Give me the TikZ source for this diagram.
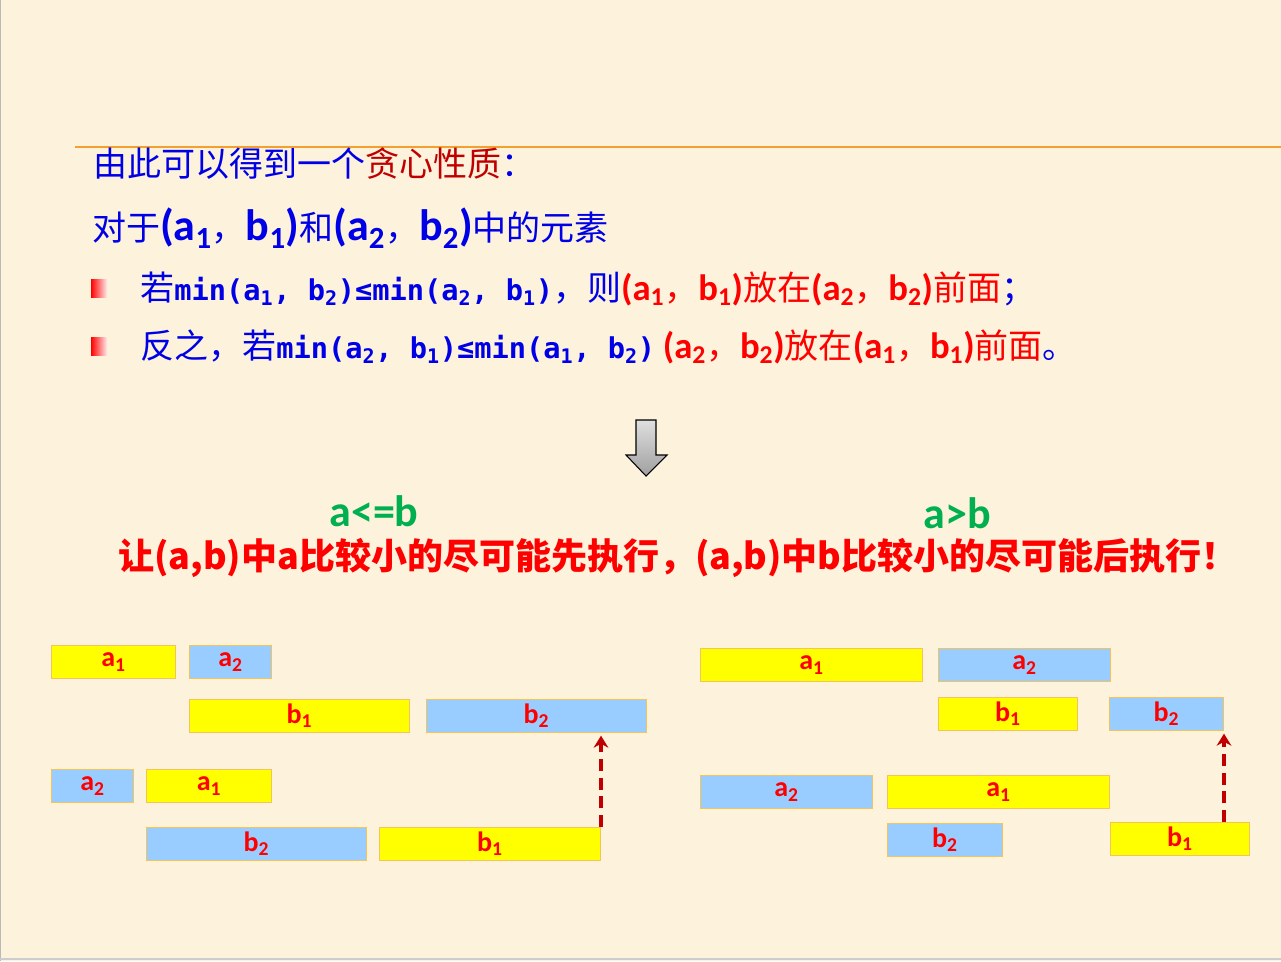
\documentclass[tikz,border=0pt]{standalone}
\usepackage{fontspec}
\usepackage{xcolor}
\usepackage{tikz}
\usetikzlibrary{arrows.meta}
\setmainfont{Carlito}
\newfontfamily\zhfont{Noto Sans CJK SC}
\newfontfamily\codefont{DejaVu Sans Mono}
\definecolor{paper}{RGB}{253,243,220}
\definecolor{rulecol}{RGB}{243,160,48}
\definecolor{textblue}{RGB}{0,0,230}
\definecolor{darkred}{RGB}{192,0,0}
\definecolor{hotred}{RGB}{255,0,0}
\definecolor{greenlab}{RGB}{0,176,80}
\definecolor{boxyellow}{RGB}{255,255,0}
\definecolor{boxblue}{RGB}{153,204,255}
\definecolor{boxline}{RGB}{242,196,90}
\newcommand{\latsize}{27.5}
\newcommand{\zh}[1]{{\zhfont #1}}
\newcommand{\code}[1]{{\codefont\bfseries\fontsize{21.5}{26}\selectfont #1}}
\newcommand{\lat}[1]{{\bfseries\fontsize{\latsize}{34}\selectfont #1}}
\newcommand{\ix}[1]{\textsubscript{#1}}
\tikzset{
  line/.style={anchor=base west,inner sep=0pt,text=textblue,font=\fontsize{25.5}{30}\selectfont},
  mark box/.style={rectangle,inner sep=0pt,minimum width=12pt,minimum height=13.5pt,
    left color=hotred,right color=hotred!8},
  slot/.style={rectangle,draw=boxline,line width=0.75pt,inner sep=0pt,anchor=north west,
    minimum height=24.75pt,text=hotred,font=\bfseries\fontsize{21}{24}\selectfont},
  yslot/.style={slot,fill=boxyellow,minimum width=#1*0.75pt},
  bslot/.style={slot,fill=boxblue,minimum width=#1*0.75pt},
  trace/.style={-{Stealth[length=9pt,width=11pt]},dash pattern=on 9pt off 5pt,
    line width=2.6pt,draw=darkred,shorten >=2pt}
}
\begin{document}
\begin{tikzpicture}[x=0.75pt,y=-0.75pt]
\fill[paper] (0,0) rectangle (1281,961);
\useasboundingbox (0,0) rectangle (1281,961);
\draw[gray!55,line width=1pt] (0.5,0) -- (0.5,961);
\draw[gray!40,line width=1pt] (0,959) -- (1281,959);
\draw[rulecol,line width=1.6pt] (75,147) -- (1281,147);
\node[line] (title) at (93,176) {\zh{由此可以得到一个\textcolor{darkred}{贪心性质}：}};
\node[line] (pairs) at (92,240) {\renewcommand{\latsize}{33}\zh{对于}\lat{(a\ix1}\zh{，}\lat{b\ix1)}\zh{和}\lat{(a\ix2}\zh{，}\lat{b\ix2)}\zh{中的元素}};
\node[mark box] (m1) at (99,288) {};
\node[mark box] (m2) at (99,346) {};
\node[line] (rule1) at (140,300) {\zh{若}\code{min(a\ix1,~b\ix2)≤min(a\ix2,~b\ix1)}\zh{，则}\textcolor{hotred}{\lat{(a\ix1}\zh{，}\lat{b\ix1)}\zh{放在}\lat{(a\ix2}\zh{，}\lat{b\ix2)}\zh{前面}}\zh{；}};
\node[line] (rule2) at (140,358) {\zh{反之，若}\code{min(a\ix2,~b\ix1)≤min(a\ix1,~b\ix2)}~\textcolor{hotred}{\lat{(a\ix2}\zh{，}\lat{b\ix2)}\zh{放在}\lat{(a\ix1}\zh{，}\lat{b\ix1)}\zh{前面}}\zh{。}};
\shade[top color=gray!25,bottom color=gray!75,draw=black,line width=0.8pt]
  (636,420) -- (656,420) -- (656,455) -- (667,455) -- (646,476) -- (626,455) -- (636,455) -- cycle;
\node[anchor=base,inner sep=0pt,text=greenlab,font=\bfseries\fontsize{33}{36}\selectfont] (le) at (374,526) {a<=b};
\node[anchor=base,inner sep=0pt,text=greenlab,font=\bfseries\fontsize{33}{36}\selectfont] (gt) at (957,528) {a>b};
\node[anchor=base west,inner sep=0pt,text=hotred,font=\zhfont\bfseries\fontsize{27}{30}\selectfont] (hint) at (118,569) {让(a,b)中a比较小的尽可能先执行，(a,b)中b比较小的尽可能后执行！};
\node[yslot=124] (la1) at (51,645) {a\ix1};
\node[bslot=82] (la2) at (189,645) {a\ix2};
\node[yslot=220] (lb1) at (189,699) {b\ix1};
\node[bslot=220] (lb2) at (426,699) {b\ix2};
\node[bslot=82] (sa2) at (51,769) {a\ix2};
\node[yslot=125] (sa1) at (146,769) {a\ix1};
\node[bslot=220] (sb2) at (146,827) {b\ix2};
\node[yslot=221] (sb1) at (379,827) {b\ix1};
\draw[trace] (sb1.north east) -- (sb1.north east |- lb2.south);
\node[yslot=222] (ra1) at (700,648) {a\ix1};
\node[bslot=172] (ra2) at (938,648) {a\ix2};
\node[yslot=139] (rb1) at (938,697) {b\ix1};
\node[bslot=114] (rb2) at (1109,697) {b\ix2};
\node[bslot=172] (ta2) at (700,775) {a\ix2};
\node[yslot=222] (ta1) at (887,775) {a\ix1};
\node[bslot=115] (tb2) at (887,823) {b\ix2};
\node[yslot=139] (tb1) at (1110,822) {b\ix1};
\draw[trace] (rb2.south east |- tb1.north) -- (rb2.south east);
\end{tikzpicture}
\end{document}
